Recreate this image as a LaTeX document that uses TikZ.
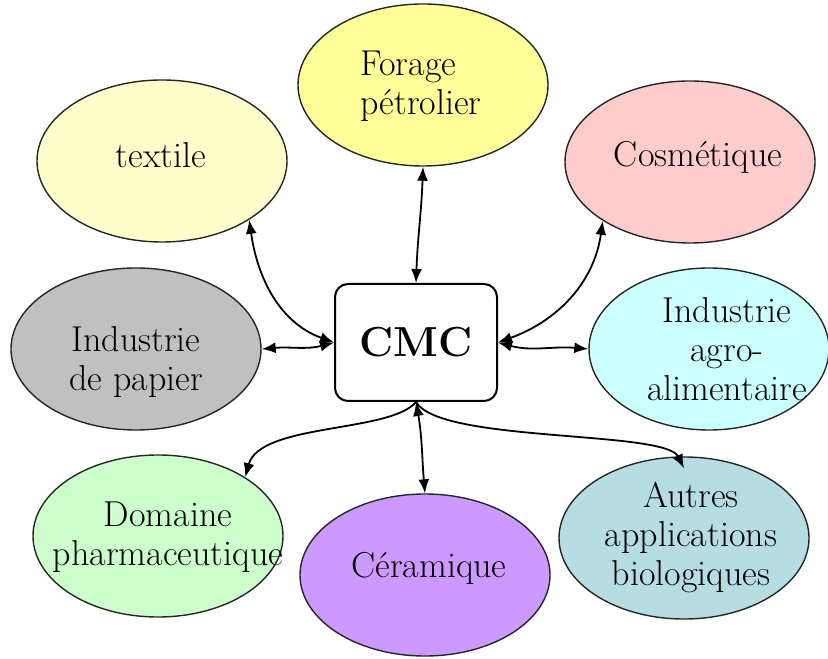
\documentclass[tikz,border=0pt]{standalone}
\usetikzlibrary{shapes.geometric,arrows.meta}
\definecolor{cTextile}{HTML}{FFFFCC}
\definecolor{cForage}{HTML}{FFFF99}
\definecolor{cCosm}{HTML}{FFCCCC}
\definecolor{cPapier}{HTML}{C0C0C0}
\definecolor{cAgro}{HTML}{CCFFFF}
\definecolor{cPharma}{HTML}{CCFFCC}
\definecolor{cCeram}{HTML}{CC99FF}
\definecolor{cAutres}{HTML}{B6DDE1}
\begin{document}
\begin{tikzpicture}[>={Latex[length=7pt,width=5.5pt]},x=0.5pt,y=0.5pt,
	bulle/.style={ellipse,draw=black!85,line width=0.7pt,minimum width=125pt,minimum height=81pt,inner sep=0pt},
	txt/.style={align=center,inner sep=0pt,font=\fontsize{18}{19.5}\selectfont},
	lien/.style={<->,line width=0.9pt}]
	\useasboundingbox (0,0) rectangle (828,658);
	% les domaines
	\node[bulle,fill=cForage] (forage) at (423,573) {};
	\node[bulle,fill=cTextile] (textile) at (162,497) {};
	\node[bulle,fill=cCosm] (cosm) at (690,496) {};
	\node[bulle,fill=cPapier] (papier) at (136,309) {};
	\node[bulle,fill=cAgro,minimum width=120pt] (agro) at (709,309) {};
	\node[bulle,fill=cPharma] (pharma) at (158,122) {};
	\node[bulle,fill=cCeram] (ceram) at (425,83) {};
	\node[bulle,fill=cAutres] (autres) at (684,120) {};
	\node[draw,fill=white,line width=1pt,rounded corners=6.5pt,minimum width=81pt,minimum height=58.5pt] (cmc) at (416,315.5) {\fontsize{21}{24}\selectfont\bfseries CMC};
	% les textes
	\node[txt,align=left,anchor=west] (t-forage) at (360,572) {Forage\\pétrolier};
	\node[txt] (t-textile) at (161,503) {textile};
	\node[txt] (t-cosm) at (698,501) {Cosmétique};
	\node[txt] (t-papier) at (136,296) {Industrie\\de papier};
	\node[txt] (t-agro) at (727,309) {Industrie\\agro-\\alimentaire};
	\node[txt] (t-pharma) at (168,121) {Domaine\\pharmaceutique};
	\node[txt] (t-ceram) at (429,90) {Céramique};
	\node[txt] (t-autres) at (691,121) {Autres\\applications\\biologiques};
	% les liens
	\draw[lien] (forage.south) to[out=-92,in=88] (cmc.north);
	\draw[lien] (textile.-34) to[out=-82,in=160] (cmc.west);
	\draw[lien] (cosm.-146) to[out=-98,in=20] (cmc.east);
	\draw[lien] (papier.east) to[out=5,in=195] (cmc.west);
	\draw[lien] (cmc.east) to[out=-15,in=175] (agro.west);
	\draw[->,line width=0.9pt] (cmc.south) .. controls (390,225) and (260,235) .. (pharma.34);
	\draw[lien] (cmc.south) to[out=-80,in=95] (ceram.north);
	\draw[->,line width=0.9pt] (cmc.south) .. controls (440,215) and (665,228) .. ([yshift=-6pt]autres.north);
\end{tikzpicture}
\end{document}
